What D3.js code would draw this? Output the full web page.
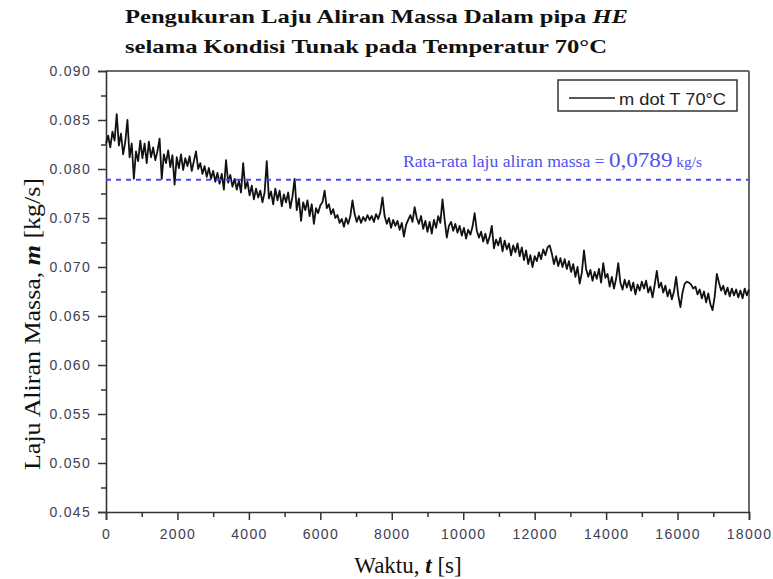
<!DOCTYPE html>
<html lang="id">
  <head>
    <meta charset="utf-8">
    <title>Laju Aliran Massa 70C</title>
    <script src="https://d3js.org/d3.v7.min.js"></script>
    <style>
      body { margin: 0; background: #fff; }
      .title { font-family: "Liberation Serif", "Times New Roman", serif; font-weight: bold; font-size: 19px; fill: #111; }
      .tick text { font-family: "Liberation Sans", Arial, sans-serif; font-size: 14px; letter-spacing: 1.3px; fill: #3e3e52; }
      .axisLabel { font-family: "Liberation Serif", "Times New Roman", serif; font-size: 23px; fill: #111; }
      .legendText { font-family: "Liberation Sans", Arial, sans-serif; font-size: 16px; fill: #222; }
      .meanText { font-family: "Liberation Serif", "Times New Roman", serif; fill: #5050ee; }
    </style>
  </head>
  <body>
    <script>
      // sampling: one reading every dt seconds, starting at 0
      var dt = 60;

      // mass flow readings [kg/s]
      var massFlow = [
        0.0826, 0.0834, 0.0822, 0.0838, 0.0829, 0.0856, 0.0824, 0.0836, 0.0815, 0.0828,
        0.0850, 0.0812, 0.0826, 0.0790, 0.0818, 0.0808, 0.0829, 0.0811, 0.0826, 0.0806,
        0.0828, 0.0812, 0.0822, 0.0809, 0.0818, 0.0831, 0.0790, 0.0815, 0.0806, 0.0819,
        0.0802, 0.0814, 0.0784, 0.0812, 0.0801, 0.0815, 0.0799, 0.0811, 0.0803, 0.0813,
        0.0798, 0.0808, 0.0818, 0.0800, 0.0806, 0.0795, 0.0803, 0.0792, 0.0801, 0.0790,
        0.0798, 0.0787, 0.0796, 0.0785, 0.0795, 0.0779, 0.0809, 0.0786, 0.0794, 0.0782,
        0.0790, 0.0779, 0.0788, 0.0776, 0.0806, 0.0780, 0.0787, 0.0773, 0.0783, 0.0769,
        0.0780, 0.0771, 0.0778, 0.0766, 0.0776, 0.0808, 0.0770, 0.0777, 0.0764, 0.0780,
        0.0768, 0.0778, 0.0762, 0.0774, 0.0766, 0.0776, 0.0760, 0.0772, 0.0790, 0.0758,
        0.0770, 0.0747, 0.0766, 0.0758, 0.0768, 0.0752, 0.0764, 0.0744, 0.0760, 0.0755,
        0.0763, 0.0766, 0.0778, 0.0760, 0.0764, 0.0754, 0.0759, 0.0750, 0.0753, 0.0745,
        0.0749, 0.0741, 0.0750, 0.0744, 0.0752, 0.0768, 0.0754, 0.0746, 0.0752, 0.0745,
        0.0751, 0.0747, 0.0753, 0.0748, 0.0752, 0.0746, 0.0754, 0.0749, 0.0756, 0.0771,
        0.0752, 0.0744, 0.0750, 0.0740, 0.0748, 0.0742, 0.0747, 0.0738, 0.0745, 0.0731,
        0.0743, 0.0748, 0.0753, 0.0746, 0.0761, 0.0750, 0.0744, 0.0752, 0.0739, 0.0747,
        0.0736, 0.0746, 0.0734, 0.0748, 0.0740, 0.0752, 0.0745, 0.0769, 0.0748, 0.0730,
        0.0742, 0.0746, 0.0737, 0.0744, 0.0735, 0.0742, 0.0732, 0.0740, 0.0729, 0.0738,
        0.0733, 0.0741, 0.0755, 0.0737, 0.0730, 0.0736, 0.0726, 0.0734, 0.0724, 0.0731,
        0.0742, 0.0719, 0.0728, 0.0722, 0.0730, 0.0716, 0.0727, 0.0718, 0.0724, 0.0712,
        0.0722, 0.0715, 0.0724, 0.0711, 0.0720, 0.0707, 0.0717, 0.0703, 0.0712, 0.0700,
        0.0711, 0.0706, 0.0715, 0.0708, 0.0718, 0.0712, 0.0720, 0.0722, 0.0714, 0.0703,
        0.0711, 0.0701, 0.0709, 0.0700, 0.0708, 0.0698, 0.0706, 0.0695, 0.0703, 0.0690,
        0.0700, 0.0683, 0.0694, 0.0717, 0.0698, 0.0690, 0.0697, 0.0686, 0.0695, 0.0688,
        0.0698, 0.0684, 0.0704, 0.0689, 0.0693, 0.0680, 0.0690, 0.0678, 0.0688, 0.0704,
        0.0684, 0.0677, 0.0687, 0.0679, 0.0686, 0.0676, 0.0684, 0.0672, 0.0682, 0.0676,
        0.0685, 0.0678, 0.0686, 0.0674, 0.0680, 0.0669, 0.0682, 0.0696, 0.0679, 0.0684,
        0.0674, 0.0681, 0.0670, 0.0677, 0.0667, 0.0675, 0.0690, 0.0671, 0.0659, 0.0674,
        0.0683, 0.0685, 0.0684, 0.0682, 0.0678, 0.0680, 0.0672, 0.0677, 0.0668, 0.0675,
        0.0664, 0.0673, 0.0662, 0.0656, 0.0670, 0.0693, 0.0684, 0.0676, 0.0681, 0.0672,
        0.0679, 0.0670, 0.0678, 0.0671, 0.0677, 0.0669, 0.0676, 0.0668, 0.0678, 0.0671,
        0.0677
      ];

      var meanFlow = 0.0789;
      var xTicks = [0, 2000, 4000, 6000, 8000, 10000, 12000, 14000, 16000, 18000];
      var yTicks = [0.045, 0.050, 0.055, 0.060, 0.065, 0.070, 0.075, 0.080, 0.085, 0.090];

      var outerWidth = 773,
        outerHeight = 579;

      var margin = { top: 71, left: 106, right: 24, bottom: 67 };
      var width = outerWidth - margin.left - margin.right,
        height = outerHeight - margin.top - margin.bottom;

      var xScale = d3.scaleLinear().domain([0, 18000]).range([0, width]);
      var yScale = d3.scaleLinear().domain([0.045, 0.090]).range([height, 0]);

      var svg = d3.select("body").append("svg")
        .attr("width", outerWidth)
        .attr("height", outerHeight);

      var g = svg.append("g")
        .attr("transform", "translate(" + margin.left + "," + margin.top + ")");

      // minor ticks sit half way between the labelled ones
      var xMinor = xTicks.slice(0, -1).map(function(d) { return d + 1000; });
      var yMinor = yTicks.slice(0, -1).map(function(d) { return d + 0.0025; });

      g.append("g")
        .attr("transform", "translate(0," + height + ")")
        .call(d3.axisBottom(xScale).tickValues(xMinor).tickSize(5).tickFormat(""))
        .call(function(a) { a.select(".domain").remove(); a.selectAll("line").attr("stroke", "#333").attr("stroke-width", 1.5); });

      g.append("g")
        .call(d3.axisLeft(yScale).tickValues(yMinor).tickSize(5).tickFormat(""))
        .call(function(a) { a.select(".domain").remove(); a.selectAll("line").attr("stroke", "#333").attr("stroke-width", 1.5); });

      // frame: top and right in grey
      g.append("line").attr("x1", 0).attr("x2", width).attr("y1", 0).attr("y2", 0)
        .attr("stroke", "#6a6a6a").attr("stroke-width", 2);
      g.append("line").attr("x1", width).attr("x2", width).attr("y1", 0).attr("y2", height)
        .attr("stroke", "#6a6a6a").attr("stroke-width", 2);

      var xAxis = g.append("g")
        .attr("transform", "translate(0," + height + ")")
        .call(d3.axisBottom(xScale).tickValues(xTicks).tickSize(8).tickPadding(9).tickFormat(d3.format("d")));
      xAxis.select(".domain").attr("stroke", "#333").attr("stroke-width", 1.6);
      xAxis.selectAll("line").attr("stroke", "#333").attr("stroke-width", 1.5);

      var yAxis = g.append("g")
        .call(d3.axisLeft(yScale).tickValues(yTicks).tickSize(8).tickPadding(7).tickFormat(d3.format(".3f")));
      yAxis.select(".domain").attr("stroke", "#333").attr("stroke-width", 1.6);
      yAxis.selectAll("line").attr("stroke", "#333").attr("stroke-width", 1.5);

      // measured line
      var line = d3.line()
        .x(function(d, i) { return xScale(i * dt); })
        .y(function(d) { return yScale(d); });

      g.append("path")
        .datum(massFlow)
        .attr("fill", "none")
        .attr("stroke", "#111")
        .attr("stroke-width", 1.8)
        .attr("stroke-linejoin", "round")
        .attr("d", line);

      // mean line
      g.append("line")
        .attr("x1", 0).attr("x2", width)
        .attr("y1", yScale(meanFlow)).attr("y2", yScale(meanFlow))
        .attr("stroke", "#4a4af2")
        .attr("stroke-width", 2)
        .attr("stroke-dasharray", "5,5");

      var meanLabel = g.append("text")
        .attr("class", "meanText")
        .attr("x", 297)
        .attr("y", yScale(meanFlow) - 13)
        .attr("textLength", 299).attr("lengthAdjust", "spacingAndGlyphs");
      meanLabel.append("tspan").attr("font-size", "16px").text("Rata-rata laju aliran massa = ");
      meanLabel.append("tspan").attr("font-size", "21px").text("0,0789");
      meanLabel.append("tspan").attr("font-size", "14px").text(" kg/s");

      // legend
      var legend = g.append("g").attr("transform", "translate(452,9)");
      legend.append("rect")
        .attr("width", 179).attr("height", 31)
        .attr("fill", "#fff").attr("stroke", "#333").attr("stroke-width", 1.5);
      legend.append("line")
        .attr("x1", 11).attr("x2", 57).attr("y1", 18).attr("y2", 18)
        .attr("stroke", "#222").attr("stroke-width", 1.4);
      legend.append("text")
        .attr("class", "legendText")
        .attr("x", 61).attr("y", 25)
        .attr("textLength", 107).attr("lengthAdjust", "spacingAndGlyphs")
        .text("m  dot T 70\u00B0C");

      // title
      var t1 = svg.append("text").attr("class", "title")
        .attr("x", 125).attr("y", 23)
        .attr("textLength", 503).attr("lengthAdjust", "spacingAndGlyphs");
      t1.append("tspan").text("Pengukuran Laju Aliran Massa Dalam pipa ");
      t1.append("tspan").attr("font-style", "italic").text("HE");

      svg.append("text").attr("class", "title")
        .attr("x", 125).attr("y", 53)
        .attr("textLength", 482).attr("lengthAdjust", "spacingAndGlyphs")
        .text("selama Kondisi Tunak pada Temperatur 70\u00B0C");

      // axis labels
      var xl = svg.append("text").attr("class", "axisLabel")
        .attr("x", 408).attr("y", 573)
        .attr("text-anchor", "middle");
      xl.append("tspan").text("Waktu, ");
      xl.append("tspan").attr("font-weight", "bold").attr("font-style", "italic").text("t");
      xl.append("tspan").text(" [s]");

      var yl = svg.append("text").attr("class", "axisLabel")
        .attr("transform", "translate(40,324) rotate(-90)")
        .attr("text-anchor", "middle")
        .attr("textLength", 292).attr("lengthAdjust", "spacingAndGlyphs");
      yl.append("tspan").text("Laju Aliran Massa, ");
      yl.append("tspan").attr("font-weight", "bold").attr("font-style", "italic").text("m");
      yl.append("tspan").text(" [kg/s]");
    </script>
  </body>
</html>
